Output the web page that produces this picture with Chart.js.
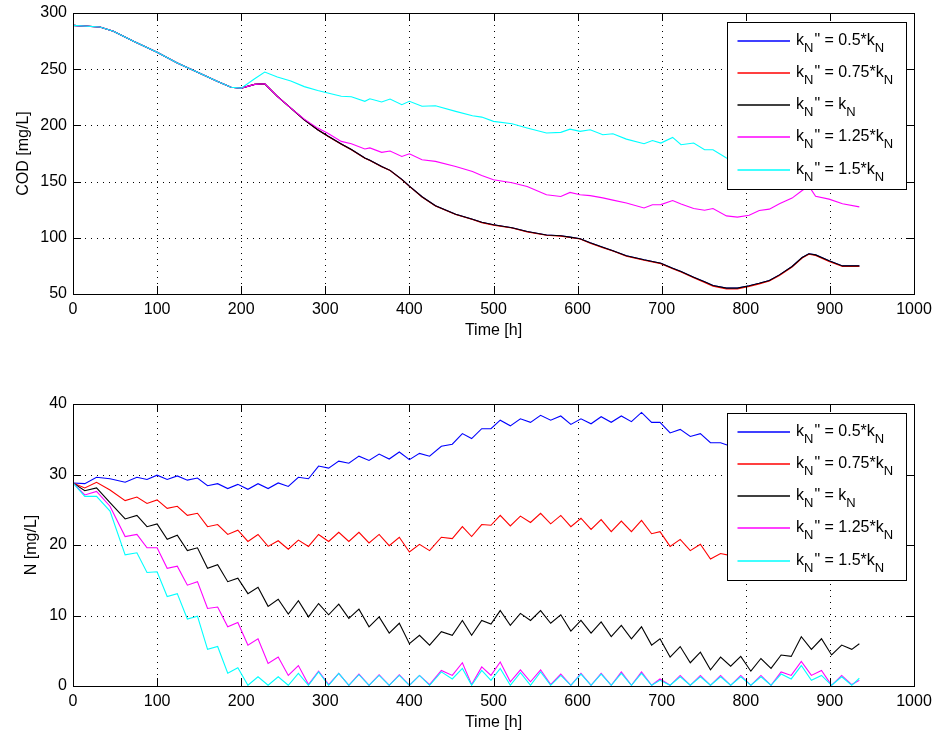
<!DOCTYPE html>
<html>
<head>
<meta charset="utf-8">
<script src="https://cdn.jsdelivr.net/npm/chart.js@4.4.0/dist/chart.umd.min.js"></script>
<style>
  body { margin: 0; background: #fff; }
  .box { position: absolute; left: 0; width: 933px; height: 369px; }
</style>
</head>
<body>
<div class="box" style="top:0"><canvas id="codChart" width="933" height="369"></canvas></div>
<div class="box" style="top:369px"><canvas id="nChart" width="933" height="369"></canvas></div>
<script>
// kN'' factors for the five runs (legend text)
const legendFactors = ['0.5*', '0.75*', '', '1.25*', '1.5*'];
const seriesColors = ['#0000ff', '#ff0000', '#000000', '#ff00ff', '#00ffff'];

// ---- COD [mg/L] ----
const timeCOD = [0, 32, 48, 72, 100, 124, 152, 172, 188, 200,
  216, 228, 243, 259, 275, 291, 303, 319, 331, 347,
  353, 367, 377, 391, 400, 415, 431, 455, 475, 486,
  500, 522, 540, 563, 580, 591, 603, 615, 630, 642,
  658, 679, 689, 699, 713, 723, 738, 751, 761, 777,
  790, 804, 816, 828, 840, 855, 867, 875, 883, 899,
  915, 935];

const blueCOD = [289, 287.5, 283.7, 274.8, 265, 255.5, 246, 239, 234, 233.2,
  236.5, 237, 225.8, 215.4, 205, 196.1, 190.5, 183.5, 178.5, 171,
  169, 163.5, 160, 152, 146, 136.5, 128.5, 121, 116.5, 113.8,
  111.6, 109, 105.6, 102.5, 101.8, 100.6, 99.2, 95.5, 91.5, 88.5,
  84, 80.4, 78.9, 77.4, 73, 70, 65, 60.8, 57.6, 55.2,
  55.2, 57.3, 59.5, 62, 67, 74.5, 82.5, 85.8, 84.8, 79.5,
  75, 75];
const redCOD = [289, 287.5, 283.7, 274.8, 265, 255.5, 246, 239, 234, 233.2,
  236.5, 237, 225.8, 215.4, 205, 196.1, 190.3, 183.3, 178.3, 170.8,
  168.8, 163.3, 159.8, 151.8, 145.8, 136.3, 128.3, 120.8, 116.3, 113.5,
  111.3, 108.7, 105.3, 102.2, 101.5, 100.3, 98.9, 95.2, 91.2, 88.2,
  83.6, 80, 78.5, 77, 72.5, 69.5, 64.5, 60.2, 57, 54.5,
  54.5, 56.8, 59, 61.5, 66.5, 74, 82, 85.3, 84.2, 79,
  74.5, 74.6];
const blackCOD = [289, 287.5, 283.7, 274.8, 265, 255.5, 246, 239, 234, 233.2,
  236.5, 237, 225.8, 215.4, 205, 196.1, 190.5, 183.5, 178.5, 171,
  169, 163.5, 160, 152, 146, 136.5, 128.5, 121, 116.5, 113.8,
  111.6, 109, 105.6, 102.5, 101.8, 100.6, 99.2, 95.5, 91.5, 88.5,
  84, 80.4, 78.9, 77.4, 73, 70, 65, 60.8, 57.6, 55.2,
  55.2, 57.3, 59.5, 62, 67, 74.5, 82.5, 85.8, 84.8, 79.5,
  75, 75];
const magentaCOD = [289, 287.5, 283.7, 274.8, 265, 255.5, 246, 239, 234, 233.2,
  236.5, 237, 225.8, 215.4, 205.6, 197.6, 193, 185.8, 183.7, 179,
  180, 176, 177.2, 172.4, 174.8, 169.4, 168, 163.5, 159, 155.5,
  151.6, 149, 145.7, 138.3, 136.8, 140.4, 138.3, 137.5, 135.5, 133.5,
  130.9, 126.5, 129.4, 129.5, 133.2, 130, 126, 124.5, 126, 119.5,
  118.4, 120, 124.3, 125.5, 130.3, 135.3, 142.1, 146, 137, 134.4,
  130.3, 127.5];
const cyanCOD = [289, 287.5, 283.7, 274.8, 265, 255.5, 246, 239, 234, 233.2,
  241.5, 247.5, 243, 239.5, 234.5, 231, 228.8, 226, 225.5, 221.4,
  223.7, 220.8, 223.4, 218.4, 221.4, 217, 217.5, 212.5, 208.6, 207.4,
  203.6, 201.5, 197.7, 193.2, 193.8, 196.7, 194.7, 196.1, 191.7, 192.6,
  187.8, 183.7, 186.6, 184.3, 189.3, 182.8, 184.3, 178.3, 178.3, 171,
  168, 167, 170, 172, 178, 186, 196, 199, 192, 186,
  181, 178];

// ---- N [mg/L] ----
const timeN = [0, 14, 28, 44, 62, 76, 88, 100, 112, 124,
  136, 148, 160, 172, 184, 196, 208, 220, 232, 244,
  256, 268, 280, 292, 304, 316, 328, 340, 352, 364,
  376, 388, 400, 412, 424, 438, 451, 463, 474, 486,
  497, 508, 520, 532, 544, 556, 568, 580, 592, 604,
  616, 628, 640, 652, 664, 676, 688, 698, 710, 722,
  734, 746, 758, 770, 782, 794, 806, 818, 830, 842,
  854, 866, 878, 890, 902, 914, 926, 935];

const blueN = [28.8, 28.7, 29.6, 29.4, 28.9, 29.6, 29.3, 29.9, 29.3, 29.8,
  29.2, 29.5, 28.4, 28.7, 28.0, 28.6, 27.9, 28.7, 28.0, 28.8,
  28.3, 29.6, 29.4, 31.2, 30.9, 31.9, 31.6, 32.6, 32.0, 32.9,
  32.2, 33.2, 32.1, 33.0, 32.6, 34.0, 34.3, 35.8, 35.1, 36.5,
  36.5, 37.7, 36.9, 37.9, 37.4, 38.4, 37.7, 38.3, 37.1, 37.9,
  37.2, 38.2, 37.4, 38.3, 37.5, 38.8, 37.4, 37.4, 35.9, 36.4,
  35.4, 35.8, 34.5, 34.5, 34.0, 34.0, 33.6, 33.8, 33.4, 33.6,
  33.3, 33.8, 33.3, 33.6, 33.0, 33.3, 32.9, 33.2];
const redN = [28.8, 28.1, 28.9, 27.8, 26.3, 26.8, 25.9, 26.4, 25.2, 25.5,
  24.2, 24.5, 22.6, 22.9, 21.5, 22.1, 20.5, 21.5, 19.8, 20.6,
  19.4, 20.7, 19.8, 21.5, 20.5, 21.8, 20.5, 21.8, 20.3, 21.5,
  19.9, 21.1, 19.0, 20.1, 19.2, 21.1, 20.9, 22.6, 21.2, 22.9,
  22.8, 24.2, 22.7, 24.1, 23.2, 24.5, 23.0, 24.2, 22.6, 23.8,
  22.2, 23.6, 21.9, 23.4, 21.9, 23.5, 21.6, 21.9, 19.8, 20.8,
  19.2, 20.1, 18.0, 18.8, 18.5, 18.8, 18.2, 18.6, 18.1, 18.5,
  18.0, 18.6, 18.1, 18.4, 17.9, 18.3, 17.9, 18.2];
const blackN = [28.8, 27.7, 28.1, 26.0, 23.7, 24.2, 22.6, 23.0, 20.8, 21.4,
  19.2, 19.6, 16.7, 17.2, 14.8, 15.3, 13.1, 14.0, 11.3, 12.3,
  10.2, 12.1, 9.8, 11.7, 10.1, 11.6, 9.6, 10.9, 8.4, 9.8,
  7.5, 8.9, 6.0, 7.2, 5.8, 7.7, 7.2, 9.3, 7.2, 9.3,
  8.8, 10.7, 8.6, 10.3, 9.3, 10.7, 8.9, 10.1, 7.8, 9.3,
  7.5, 9.1, 7.0, 8.6, 6.7, 8.4, 5.8, 6.7, 4.1, 5.6,
  3.3, 4.8, 2.3, 4.1, 2.8, 4.2, 2.1, 3.9, 2.5, 4.4,
  4.2, 7.0, 5.2, 6.7, 4.4, 5.8, 5.2, 6.0];
const magentaN = [28.8, 27.1, 27.6, 25.5, 21.2, 21.5, 19.6, 19.6, 16.7, 17.0,
  14.3, 14.8, 11.0, 11.2, 8.4, 9.0, 5.8, 6.7, 3.2, 4.1,
  1.5, 2.9, 0.2, 2.1, 0.2, 1.8, 0.1, 1.7, 0.1, 1.6,
  0.1, 1.6, 0.1, 1.5, 0.2, 2.2, 1.5, 3.3, 0.2, 2.7,
  1.5, 3.4, 0.6, 2.3, 0.6, 2.3, 0.2, 1.7, 0.1, 1.8,
  0.1, 1.8, 0.1, 2.0, 0.1, 2.0, 0.1, 1.0, 0.1, 1.5,
  0.1, 1.5, 0.1, 1.5, 0.1, 1.5, 0.1, 1.5, 0.1, 2.0,
  1.5, 3.5, 1.5, 2.2, 0.1, 1.5, 0.2, 0.8];
const cyanN = [28.8, 26.9, 26.9, 24.8, 18.6, 18.9, 16.1, 16.2, 12.7, 13.1,
  9.5, 9.9, 5.2, 5.6, 1.8, 2.6, 0.1, 1.3, 0.1, 1.3,
  0.1, 1.8, 0.1, 2.0, 0.1, 1.8, 0.1, 1.6, 0.1, 1.5,
  0.1, 1.5, 0.1, 1.5, 0.1, 2.0, 1.0, 2.5, 0.1, 2.2,
  0.8, 2.5, 0.1, 1.9, 0.1, 2.0, 0.1, 1.5, 0.1, 1.7,
  0.1, 1.7, 0.1, 1.8, 0.1, 1.8, 0.1, 0.8, 0.1, 1.3,
  0.1, 1.3, 0.1, 1.3, 0.1, 1.3, 0.1, 1.3, 0.1, 1.7,
  1.0, 2.9, 0.8, 1.5, 0.1, 1.3, 0.1, 1.1];

const FONT = '"Liberation Sans", Arial, Helvetica, sans-serif';

function makeDatasets(times, series) {
    return series.map(function (vals, i) {
        return {
            label: 'kN" = ' + legendFactors[i] + 'kN',
            data: vals.map(function (v, j) { return { x: times[j], y: v }; }),
            borderColor: seriesColors[i],
            borderWidth: 1.1,
            pointRadius: 0,
            tension: 0,
            fill: false,
            order: series.length - i   // later runs drawn on top, like matlab
        };
    });
}

// dotted grid, box and inward tick marks (matlab look)
const matlabFrame = {
    id: 'matlabFrame',
    beforeDatasetsDraw(chart) {
        const { ctx, chartArea: a, scales: { x, y } } = chart;
        ctx.save();
        ctx.strokeStyle = '#000';
        ctx.lineWidth = 1;
        ctx.setLineDash([1, 5]);
        x.ticks.forEach(function (t) {
            const px = Math.round(x.getPixelForValue(t.value)) + 0.5;
            if (px <= a.left + 1 || px >= a.right - 1) return;
            ctx.beginPath(); ctx.moveTo(px, a.top); ctx.lineTo(px, a.bottom); ctx.stroke();
        });
        y.ticks.forEach(function (t) {
            const py = Math.round(y.getPixelForValue(t.value)) + 0.5;
            if (py <= a.top + 1 || py >= a.bottom - 1) return;
            ctx.beginPath(); ctx.moveTo(a.left, py); ctx.lineTo(a.right, py); ctx.stroke();
        });
        ctx.restore();
    },
    afterDatasetsDraw(chart) {
        const { ctx, chartArea: a, scales: { x, y } } = chart;
        const tl = 8;
        ctx.save();
        ctx.strokeStyle = '#000';
        ctx.lineWidth = 1;
        ctx.setLineDash([]);
        ctx.beginPath();
        x.ticks.forEach(function (t) {
            const px = Math.round(x.getPixelForValue(t.value)) + 0.5;
            ctx.moveTo(px, a.bottom); ctx.lineTo(px, a.bottom - tl);
            ctx.moveTo(px, a.top); ctx.lineTo(px, a.top + tl);
        });
        y.ticks.forEach(function (t) {
            const py = Math.round(y.getPixelForValue(t.value)) + 0.5;
            ctx.moveTo(a.left, py); ctx.lineTo(a.left + tl, py);
            ctx.moveTo(a.right, py); ctx.lineTo(a.right - tl, py);
        });
        ctx.stroke();
        ctx.strokeRect(Math.round(a.left) + 0.5, Math.round(a.top) + 0.5,
            Math.round(a.right - a.left), Math.round(a.bottom - a.top));
        ctx.restore();
    }
};

// legend with subscripts, drawn over the lines
const kLegend = {
    id: 'kLegend',
    afterDraw(chart) {
        const { ctx, chartArea: a } = chart;
        const w = 179, h = 167;
        const left = Math.round(a.right) - 186.5, top = Math.round(a.top) + 9.5;
        ctx.save();
        ctx.setLineDash([]);
        ctx.fillStyle = '#fff';
        ctx.fillRect(left, top, w, h);
        ctx.strokeStyle = '#000';
        ctx.lineWidth = 1;
        ctx.strokeRect(left, top, w, h);
        chart.data.datasets.forEach(function (ds, i) {
            const yy = Math.round(top + 18 + i * 32.3);
            ctx.strokeStyle = ds.borderColor;
            ctx.lineWidth = 1.5;
            ctx.beginPath(); ctx.moveTo(left + 10, yy); ctx.lineTo(left + 62.5, yy); ctx.stroke();
            let tx = left + 68.5;
            const parts = [['k', 0], ['N', 1], ['" = ' + legendFactors[i] + 'k', 0], ['N', 1]];
            ctx.fillStyle = '#000';
            ctx.textBaseline = 'alphabetic';
            parts.forEach(function (p) {
                ctx.font = (p[1] ? '13px ' : '16px ') + FONT;
                ctx.fillText(p[0], tx, yy + (p[1] ? 11 : 3.6));
                tx += ctx.measureText(p[0]).width + (p[1] ? 1 : 0);
            });
        });
        ctx.restore();
    }
};

function makeChart(id, times, series, yMin, yMax, yStep, yLabel, pad, yTitlePad) {
    const ctx = document.getElementById(id).getContext('2d');
    return new Chart(ctx, {
        type: 'line',
        data: { datasets: makeDatasets(times, series) },
        plugins: [matlabFrame, kLegend],
        options: {
            responsive: false,
            animation: false,
            layout: { padding: pad },
            plugins: { legend: { display: false }, tooltip: { enabled: false } },
            scales: {
                x: {
                    type: 'linear',
                    min: 0, max: 1000,
                    grid: { display: false, drawTicks: false },
                    border: { display: false },
                    ticks: { stepSize: 100, padding: 6, color: '#000', font: { family: FONT, size: 16 },
                        callback: function (v) { return String(v); } },
                    title: { display: true, text: 'Time [h]', color: '#000', padding: { top: 0, bottom: 0 },
                        font: { family: FONT, size: 16 } },
                    afterFit: function (scale) {
                        scale.height = 46;
                        scale.paddingLeft = 0;
                        scale.paddingRight = 0;
                    }
                },
                y: {
                    min: yMin, max: yMax,
                    grid: { display: false, drawTicks: false },
                    border: { display: false },
                    ticks: { stepSize: yStep, padding: 6, color: '#000', font: { family: FONT, size: 16 },
                        callback: function (v) { return String(v); } },
                    title: { display: true, text: yLabel, color: '#000', padding: { top: yTitlePad, bottom: 0 },
                        font: { family: FONT, size: 16 } },
                    afterFit: function (scale) {
                        scale.width = 73;
                        scale.paddingTop = 0;
                        scale.paddingBottom = 0;
                    }
                }
            }
        }
    });
}

makeChart('codChart', timeCOD, [blueCOD, redCOD, blackCOD, magentaCOD, cyanCOD],
    50, 300, 50, 'COD [mg/L]', { top: 13, right: 19, bottom: 29, left: 0 }, 14);
makeChart('nChart', timeN, [blueN, redN, blackN, magentaN, cyanN],
    0, 40, 10, 'N [mg/L]', { top: 35, right: 19, bottom: 6, left: 0 }, 22);
</script>
</body>
</html>
